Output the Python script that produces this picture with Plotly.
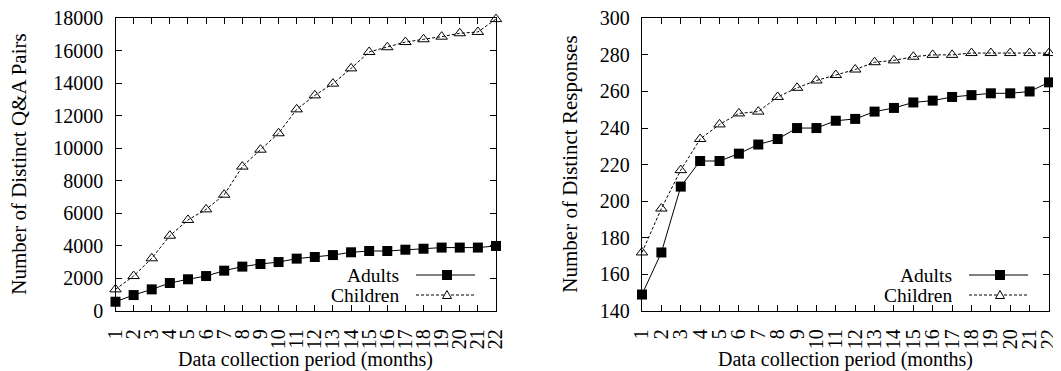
import plotly.graph_objects as go

months = list(range(1, 23))
month_labels = [str(m) for m in months]

qa_adults = [570, 980, 1330, 1720, 1950, 2150, 2480, 2730, 2890, 3010, 3220, 3320,
             3440, 3610, 3690, 3690, 3770, 3830, 3900, 3900, 3900, 4000]
qa_children = [1330, 2150, 3240, 4630, 5600, 6250, 7150, 8880, 9920, 10930, 12400, 13260,
               13980, 14920, 15930, 16220, 16540, 16710, 16870, 17080, 17160, 17950]

resp_adults = [149, 172, 208, 222, 222, 226, 231, 234, 240, 240, 244, 245,
               249, 251, 254, 255, 257, 258, 259, 259, 260, 265]
resp_children = [172, 196, 217, 234, 242, 248, 249, 257, 262, 266, 269, 272,
                 276, 277, 279, 280, 280, 281, 281, 281, 281, 281]

series_names = ["Adults", "Children"]
y_titles = ["Number of Distinct Q&A Pairs", "Number of Distinct Responses"]
x_title = "Data collection period (months)"

FONT = "Liberation Serif"
BLACK = "#000000"

fig = go.Figure()

adult_style = dict(mode="lines+markers", line=dict(color=BLACK, width=1),
                   marker=dict(symbol="square", size=10, color=BLACK),
                   cliponaxis=False, showlegend=False)
child_style = dict(mode="lines+markers", line=dict(color=BLACK, width=1, dash="3px,2px"),
                   marker=dict(symbol="triangle-up-open", size=10, color=BLACK,
                               line=dict(width=1, color=BLACK)),
                   cliponaxis=False, showlegend=False)

fig.add_trace(go.Scatter(x=months, y=qa_children, name=series_names[1], xaxis="x", yaxis="y", **child_style))
fig.add_trace(go.Scatter(x=months, y=qa_adults, name=series_names[0], xaxis="x", yaxis="y", **adult_style))
fig.add_trace(go.Scatter(x=months, y=resp_children, name=series_names[1], xaxis="x2", yaxis="y2", **child_style))
fig.add_trace(go.Scatter(x=months, y=resp_adults, name=series_names[0], xaxis="x2", yaxis="y2", **adult_style))

# page body adds an 8px offset; figure is sized so the whole page is the window
OFF = 8
W, H = 1061 - OFF, 371 - OFF
left_px = (115.5 - OFF, 496.0 - OFF)
right_px = (642.0 - OFF, 1049.0 - OFF)
top_px, bot_px = 18.3 - OFF, 311.0 - OFF
ydom = [1 - bot_px / H, 1 - top_px / H]

axis_common = dict(showline=True, linecolor=BLACK, linewidth=1.3, mirror="ticks",
                   ticks="inside", ticklen=6, tickwidth=1, tickcolor=BLACK,
                   showgrid=False, zeroline=False, automargin=False,
                   ticklabelstandoff=7, ticklabeloverflow="allow",
                   tickfont=dict(family=FONT, size=20, color=BLACK))

xaxis_common = dict(axis_common, range=[1, 22], tickmode="array", tickvals=months,
                    ticktext=month_labels, tickangle=-90, ticklabelstandoff=9)

fig.update_layout(
    width=W, height=H, autosize=False,
    margin=dict(l=0, r=0, t=0, b=0, pad=0, autoexpand=False),
    paper_bgcolor="white", plot_bgcolor="white",
    font=dict(family=FONT, color=BLACK),
    showlegend=False,
    xaxis=dict(xaxis_common, domain=[left_px[0] / W, left_px[1] / W], anchor="y"),
    yaxis=dict(axis_common, domain=ydom, range=[0, 18000], dtick=2000, tickformat="d", anchor="x"),
    xaxis2=dict(xaxis_common, domain=[right_px[0] / W, right_px[1] / W], anchor="y2"),
    yaxis2=dict(axis_common, domain=ydom, range=[140, 300], dtick=20, tickformat="d", anchor="x2"),
)

annotations = []
shapes = []

# axis titles
for (xl, xr), yt, ytx in [(left_px, y_titles[0], 19 - OFF), (right_px, y_titles[1], 570 - OFF)]:
    annotations.append(dict(text=x_title, xref="paper", yref="paper",
                            x=((xl + xr) / 2) / W, y=0, yshift=-2, showarrow=False,
                            font=dict(family=FONT, size=20, color=BLACK),
                            xanchor="center", yanchor="bottom"))
    annotations.append(dict(text=yt, xref="paper", yref="paper",
                            x=ytx / W, y=1 - ((top_px + bot_px) / 2) / H, showarrow=False,
                            textangle=-90, font=dict(family=FONT, size=21, color=BLACK),
                            xanchor="center", yanchor="middle"))

# manual legends (text on the left, sample on the right, gnuplot style)
# offsets in px measured back from each plot's right edge
TEXT_R, LINE_0, LINE_1, MARK = 95, 80, 21, 49
row_px = [275 - OFF, 295 - OFF]
for (xl, xr), xa, ya in [(left_px, "x", "y"), (right_px, "x2", "y2")]:
    wpx = xr - xl
    hpx = bot_px - top_px
    xref = f"{xa} domain"
    yref = f"{ya} domain"
    for i, name in enumerate(series_names):
        yy = (bot_px - row_px[i]) / hpx
        annotations.append(dict(text=name, xref=xref, yref=yref, x=1 - TEXT_R / wpx, y=yy,
                                showarrow=False, xanchor="right", yanchor="middle",
                                font=dict(family=FONT, size=19.5, color=BLACK)))
        dash = "solid" if i == 0 else "3px,2px"
        shapes.append(dict(type="line", xref=xref, yref=yref,
                           x0=1 - LINE_0 / wpx, x1=1 - LINE_1 / wpx, y0=yy, y1=yy,
                           line=dict(color=BLACK, width=1, dash=dash)))
        mx = 1 - MARK / wpx
        if i == 0:
            shapes.append(dict(type="rect", xref=xref, yref=yref, xsizemode="pixel",
                               ysizemode="pixel", xanchor=mx, yanchor=yy,
                               x0=-5, x1=5, y0=-5, y1=5, fillcolor=BLACK,
                               line=dict(color=BLACK, width=0)))
        else:
            shapes.append(dict(type="path", xref=xref, yref=yref, xsizemode="pixel",
                               ysizemode="pixel", xanchor=mx, yanchor=yy,
                               path="M -4.5 -3.5 L 4.5 -3.5 L 0 4.5 Z", fillcolor="white",
                               line=dict(color=BLACK, width=1)))

fig.update_layout(annotations=annotations, shapes=shapes)

fig.write_html("out.html")
